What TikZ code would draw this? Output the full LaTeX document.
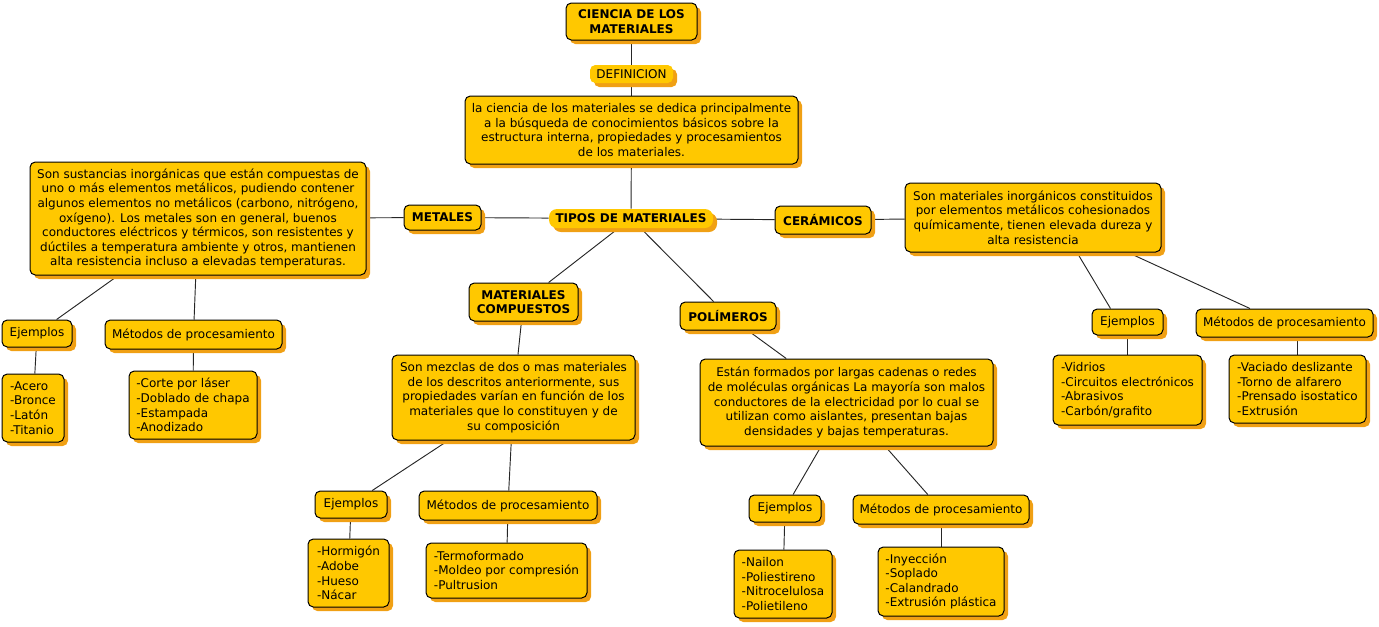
\documentclass[tikz,border=0pt]{standalone}
\usepackage{fontspec}
\setmainfont{DejaVu Sans}
\usetikzlibrary{shadows,backgrounds}
\definecolor{fillc}{RGB}{255,200,0}
\definecolor{shc}{RGB}{240,160,20}
\begin{document}
\begin{tikzpicture}[x=0.75pt,y=-0.75pt,
  base/.style={fill=fillc, rounded corners=4pt,
    drop shadow={shadow xshift=3pt,shadow yshift=-3pt,fill=shc,opacity=1},
    inner sep=1pt, font=\fontsize{9}{10.95}\selectfont, align=center, text=black},
  box/.style={base, draw=black, line width=0.75pt},
  link/.style={base, draw=none},
  hd/.style={font=\fontsize{9}{10.95}\selectfont\bfseries},
  sz/.style 2 args={minimum width=#1*0.75pt, minimum height=#2*0.75pt},
  conn/.style={draw=black!85, line width=0.7pt}
]
\useasboundingbox (0,0) rectangle (1379,626);

% top chain
\node[box,hd,sz={131}{37}] (ciencia) at (631.5,21.5) {CIENCIA DE LOS\\MATERIALES};
\node[link,sz={83}{18}] (defin) at (631.5,74) {DEFINICION};
\node[box,sz={333}{68}] (defbox) at (631.5,130) {la ciencia de los materiales se dedica principalmente\\a la búsqueda de conocimientos básicos sobre la\\estructura interna, propiedades y procesamientos\\de los materiales.};
\node[link,hd,sz={164}{19},rounded corners=6pt] (tipos) at (631,218.5) {TIPOS DE MATERIALES};

% metales
\node[box,hd,sz={77}{25}] (metales) at (442.5,217.5) {METALES};
\node[box,sz={336}{113}] (metdesc) at (198,218.5) {Son sustancias inorgánicas que están compuestas de\\uno o más elementos metálicos, pudiendo contener\\algunos elementos no metálicos (carbono, nitrógeno,\\oxígeno). Los metales son en general, buenos\\conductores eléctricos y térmicos, son resistentes y\\dúctiles a temperatura ambiente y otros, mantienen\\alta resistencia incluso a elevadas temperaturas.};
\node[box,sz={70}{27}] (ejm) at (37,333.5) {Ejemplos};
\node[box,sz={177}{29}] (mtm) at (193.5,334.5) {Métodos de procesamiento};
\node[box,sz={62}{68},align=left] (acero) at (33,408) {-Acero\\-Bronce\\-Latón\\-Titanio};
\node[box,sz={128}{68},align=left] (corte) at (193,405) {-Corte por láser\\-Doblado de chapa\\-Estampada\\-Anodizado};

% ceramicos
\node[box,hd,sz={96}{28}] (ceram) at (823,220) {CERÁMICOS};
\node[box,sz={256}{69}] (cerdesc) at (1033,217.5) {Son materiales inorgánicos constituidos\\por elementos metálicos cohesionados\\químicamente, tienen elevada dureza y\\alta resistencia};
\node[box,sz={71}{26}] (ejc) at (1127.5,322) {Ejemplos};
\node[box,sz={177}{28}] (mtc) at (1284.5,323) {Métodos de procesamiento};
\node[box,sz={149}{70},align=left] (vid) at (1127.5,390) {-Vidrios\\-Circuitos electrónicos\\-Abrasivos\\-Carbón/grafito};
\node[box,sz={137}{68},align=left] (vac) at (1297.5,389) {-Vaciado deslizante\\-Torno de alfarero\\-Prensado isostatico\\-Extrusión};

% compuestos
\node[box,hd,sz={109}{38}] (comp) at (523.5,302) {MATERIALES\\COMPUESTOS};
\node[box,sz={243}{85}] (compdesc) at (513.5,397.5) {Son mezclas de dos o mas materiales\\de los descritos anteriormente, sus\\propiedades varían en función de los\\materiales que lo constituyen y de\\su composición};
\node[box,sz={72}{27}] (ejco) at (351,504.5) {Ejemplos};
\node[box,sz={178}{29}] (mtco) at (508,505.5) {Métodos de procesamiento};
\node[box,sz={81}{68},align=left] (horm) at (348.5,573) {-Hormigón\\-Adobe\\-Hueso\\-Nácar};
\node[box,sz={161}{55},align=left] (termo) at (506.5,570.5) {-Termoformado\\-Moldeo por compresión\\-Pultrusion};

% polimeros
\node[box,hd,sz={96}{28}] (pol) at (728,316) {POLÍMEROS};
\node[box,sz={293}{87}] (poldesc) at (846.5,402.5) {Están formados por largas cadenas o redes\\de moléculas orgánicas La mayoría son malos\\conductores de la electricidad por lo cual se\\utilizan como aislantes, presentan bajas\\densidades y bajas temperaturas.};
\node[box,sz={72}{27}] (ejp) at (785,508.5) {Ejemplos};
\node[box,sz={176}{29}] (mtp) at (941,509.5) {Métodos de procesamiento};
\node[box,sz={98}{68},align=left] (nail) at (783,584) {-Nailon\\-Poliestireno\\-Nitrocelulosa\\-Polietileno};
\node[box,sz={126}{69},align=left] (iny) at (941,581.5) {-Inyección\\-Soplado\\-Calandrado\\-Extrusión plástica};

\begin{scope}[on background layer]
\draw[conn] (ciencia) -- (defin);
\draw[conn] (defin) -- (defbox);
\draw[conn] (defbox) -- (tipos);
\draw[conn] (tipos) -- (metales);
\draw[conn] (metales) -- (metdesc);
\draw[conn] (metdesc) -- (ejm);
\draw[conn] (metdesc) -- (mtm);
\draw[conn] (ejm) -- (acero);
\draw[conn] (mtm) -- (corte);
\draw[conn] (tipos) -- (ceram);
\draw[conn] (ceram) -- (cerdesc);
\draw[conn] ([xshift=33pt]cerdesc.south) -- ([xshift=-12.75pt]ejc.north);
\draw[conn] ([xshift=71.25pt]cerdesc.south) -- ([xshift=-25.9pt]mtc.north);
\draw[conn] (ejc) -- (vid);
\draw[conn] (vac.north) -- (vac.north |- mtc.south);
\draw[conn] (tipos) -- (comp);
\draw[conn] (comp) -- (compdesc);
\draw[conn] (compdesc) -- (ejco);
\draw[conn] (compdesc) -- (mtco);
\draw[conn] (ejco) -- (horm);
\draw[conn] (mtco) -- (termo);
\draw[conn] (tipos) -- (pol);
\draw[conn] (pol) -- (poldesc);
\draw[conn] (poldesc) -- (ejp);
\draw[conn] (poldesc) -- (mtp);
\draw[conn] (ejp) -- (nail);
\draw[conn] (mtp) -- (iny);
\end{scope}
\end{tikzpicture}
\end{document}
